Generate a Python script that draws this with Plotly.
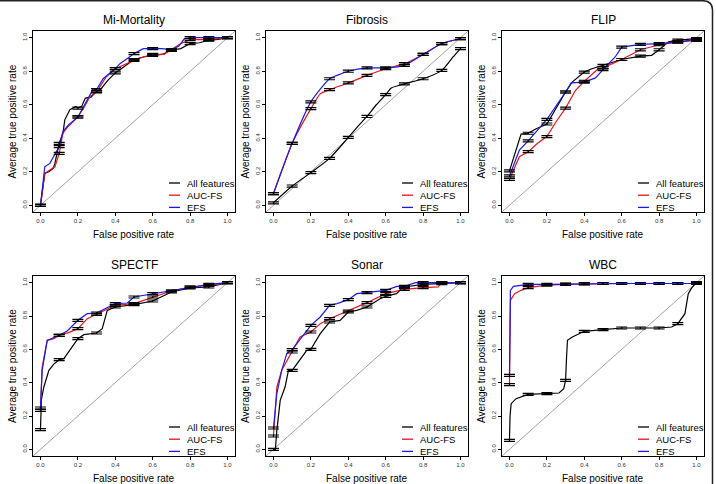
import plotly.graph_objects as go

W, H = 716, 484
FONT = "Liberation Sans, Arial, Helvetica, sans-serif"

PANEL_TITLES = ["Mi-Mortality", "Fibrosis", "FLIP", "SPECTF", "Sonar", "WBC"]
SERIES_NAMES = ["All features", "AUC-FS", "EFS"]
SERIES_COLORS = ["#000000", "#e8141c", "#1a1ae6"]
TICK_VALUES = [0.0, 0.2, 0.4, 0.6, 0.8, 1.0]
TICK_LABELS = ["0.0", "0.2", "0.4", "0.6", "0.8", "1.0"]
X_LABEL = "False positive rate"
Y_LABEL = "Average true positive rate"
STDERR = 0.006

# ---- Mi-Mortality ----
MI_ALL_X = [0, 0.023, 0.045, 0.068, 0.077, 0.095, 0.1, 0.12, 0.13, 0.157, 0.19, 0.2, 0.22, 0.24, 0.27, 0.3, 0.32, 0.36, 0.4, 0.45, 0.5, 0.55, 0.6, 0.65, 0.7, 0.75, 0.8, 0.85, 0.9, 0.95, 1.0]
MI_ALL_Y = [0, 0.19, 0.2, 0.22, 0.25, 0.35, 0.37, 0.43, 0.51, 0.57, 0.59, 0.58, 0.59, 0.64, 0.645, 0.68, 0.69, 0.745, 0.79, 0.83, 0.87, 0.885, 0.895, 0.9, 0.925, 0.935, 0.965, 0.97, 0.985, 0.99, 1.0]
MI_AUC_X = [0, 0.023, 0.05, 0.077, 0.1, 0.12, 0.14, 0.19, 0.2, 0.23, 0.265, 0.3, 0.35, 0.4, 0.44, 0.5, 0.55, 0.6, 0.66, 0.7, 0.75, 0.8, 0.9, 1.0]
MI_AUC_Y = [0, 0.19, 0.21, 0.23, 0.31, 0.43, 0.46, 0.52, 0.527, 0.58, 0.65, 0.676, 0.765, 0.815, 0.835, 0.865, 0.885, 0.9, 0.9, 0.928, 0.965, 0.988, 0.988, 1.0]
MI_EFS_X = [0, 0.023, 0.05, 0.08, 0.1, 0.12, 0.15, 0.2, 0.23, 0.28, 0.3, 0.335, 0.4, 0.425, 0.47, 0.5, 0.55, 0.6, 0.65, 0.7, 0.74, 0.77, 0.8, 0.9, 1.0]
MI_EFS_Y = [0, 0.23, 0.25, 0.31, 0.35, 0.44, 0.48, 0.527, 0.59, 0.69, 0.69, 0.755, 0.815, 0.845, 0.88, 0.905, 0.935, 0.935, 0.935, 0.928, 0.95, 0.995, 1.0, 1.0, 1.0]

# ---- Fibrosis ----
FIB_ALL_X = [0, 0.1, 0.2, 0.3, 0.4, 0.45, 0.5, 0.55, 0.6, 0.63, 0.7, 0.8, 0.9, 0.96, 1.0]
FIB_ALL_Y = [0.015, 0.115, 0.195, 0.28, 0.405, 0.47, 0.53, 0.6, 0.66, 0.7, 0.725, 0.755, 0.805, 0.885, 0.935]
FIB_AUC_X = [0, 0.1, 0.2, 0.25, 0.3, 0.4, 0.5, 0.6, 0.7, 0.8, 0.9, 1.0]
FIB_AUC_Y = [0.07, 0.37, 0.577, 0.665, 0.69, 0.73, 0.775, 0.815, 0.845, 0.9, 0.965, 0.995]
FIB_EFS_X = [0, 0.1, 0.2, 0.3, 0.35, 0.4, 0.5, 0.6, 0.7, 0.8, 0.9, 1.0]
FIB_EFS_Y = [0.07, 0.37, 0.617, 0.755, 0.78, 0.8, 0.82, 0.82, 0.835, 0.9, 0.965, 0.995]

# ---- FLIP ----
FLIP_ALL_X = [0, 0.035, 0.062, 0.1, 0.14, 0.2, 0.25, 0.3, 0.335, 0.4, 0.44, 0.5, 0.6, 0.7, 0.76, 0.8, 0.85, 0.9, 1.0]
FLIP_ALL_Y = [0.205, 0.33, 0.425, 0.43, 0.455, 0.485, 0.585, 0.676, 0.735, 0.795, 0.815, 0.835, 0.87, 0.89, 0.895, 0.928, 0.975, 0.985, 0.995]
FLIP_AUC_X = [0, 0.053, 0.1, 0.15, 0.2, 0.25, 0.3, 0.353, 0.4, 0.47, 0.5, 0.6, 0.7, 0.8, 0.9, 1.0]
FLIP_AUC_Y = [0.155, 0.29, 0.32, 0.37, 0.41, 0.5, 0.58, 0.686, 0.74, 0.81, 0.82, 0.87, 0.928, 0.958, 0.974, 0.984]
FLIP_EFS_X = [0, 0.053, 0.1, 0.2, 0.3, 0.33, 0.4, 0.46, 0.5, 0.565, 0.6, 0.7, 0.8, 0.9, 1.0]
FLIP_EFS_Y = [0.175, 0.33, 0.384, 0.513, 0.676, 0.73, 0.735, 0.76, 0.81, 0.885, 0.944, 0.96, 0.965, 0.975, 0.99]

# ---- SPECTF ----
SPE_ALL_X = [0, 0.005, 0.018, 0.045, 0.07, 0.1, 0.125, 0.16, 0.2, 0.232, 0.3, 0.33, 0.345, 0.357, 0.4, 0.5, 0.6, 0.7, 0.8, 0.9, 1.0]
SPE_ALL_Y = [0.118, 0.3, 0.374, 0.474, 0.51, 0.538, 0.544, 0.6, 0.664, 0.688, 0.698, 0.724, 0.79, 0.834, 0.854, 0.868, 0.89, 0.944, 0.968, 0.974, 1.0]
SPE_AUC_X = [0, 0.009, 0.036, 0.071, 0.1, 0.15, 0.2, 0.25, 0.3, 0.4, 0.5, 0.6, 0.7, 0.8, 0.9, 1.0]
SPE_AUC_Y = [0.234, 0.494, 0.654, 0.664, 0.684, 0.7, 0.724, 0.784, 0.81, 0.864, 0.874, 0.914, 0.95, 0.974, 0.984, 1.0]
SPE_EFS_X = [0, 0.009, 0.036, 0.1, 0.143, 0.2, 0.25, 0.3, 0.4, 0.464, 0.5, 0.6, 0.7, 0.8, 0.9, 1.0]
SPE_EFS_Y = [0.248, 0.474, 0.654, 0.684, 0.71, 0.774, 0.814, 0.818, 0.874, 0.878, 0.914, 0.934, 0.95, 0.974, 0.99, 1.0]

# ---- Sonar ----
SON_ALL_X = [0, 0.01, 0.018, 0.036, 0.062, 0.08, 0.1, 0.133, 0.178, 0.2, 0.25, 0.3, 0.356, 0.4, 0.445, 0.5, 0.57, 0.6, 0.658, 0.694, 0.7, 0.8, 0.9, 1.0]
SON_ALL_Y = [0, 0.0, 0.114, 0.294, 0.374, 0.474, 0.474, 0.524, 0.594, 0.6, 0.694, 0.764, 0.774, 0.824, 0.834, 0.854, 0.904, 0.918, 0.934, 0.974, 0.974, 0.99, 0.994, 1.0]
SON_AUC_X = [0, 0.018, 0.044, 0.1, 0.142, 0.2, 0.25, 0.3, 0.4, 0.5, 0.6, 0.7, 0.8, 0.88, 0.9, 1.0]
SON_AUC_Y = [0.08, 0.374, 0.474, 0.584, 0.674, 0.704, 0.754, 0.784, 0.83, 0.88, 0.934, 0.96, 0.97, 0.975, 1.0, 1.0]
SON_EFS_X = [0, 0.018, 0.044, 0.071, 0.1, 0.2, 0.25, 0.3, 0.34, 0.4, 0.445, 0.5, 0.6, 0.66, 0.7, 0.76, 0.8, 0.9, 1.0]
SON_EFS_Y = [0.128, 0.334, 0.474, 0.574, 0.598, 0.744, 0.794, 0.864, 0.874, 0.898, 0.934, 0.94, 0.954, 0.978, 0.978, 1.0, 1.0, 1.0, 1.0]

# ---- WBC ----
WBC_ALL_X = [0, 0.003, 0.009, 0.035, 0.1, 0.2, 0.265, 0.29, 0.3, 0.305, 0.31, 0.336, 0.4, 0.5, 0.6, 0.7, 0.8, 0.867, 0.9, 0.938, 0.956, 0.975, 1.0]
WBC_ALL_Y = [0.054, 0.2, 0.274, 0.304, 0.33, 0.334, 0.338, 0.364, 0.414, 0.55, 0.654, 0.674, 0.708, 0.718, 0.728, 0.728, 0.728, 0.734, 0.754, 0.814, 0.934, 0.97, 1.0]
WBC_AUC_X = [0, 0.003, 0.005, 0.027, 0.062, 0.1, 0.2, 0.3, 0.4, 0.5, 0.6, 0.7, 0.8, 0.9, 1.0]
WBC_AUC_Y = [0.388, 0.7, 0.894, 0.934, 0.954, 0.97, 0.985, 0.99, 0.993, 0.995, 0.995, 0.995, 0.995, 0.995, 0.995]
WBC_EFS_X = [0, 0.003, 0.005, 0.021, 0.1, 0.2, 0.3, 0.4, 0.5, 0.6, 0.7, 0.8, 0.9, 1.0]
WBC_EFS_Y = [0.444, 0.8, 0.954, 0.978, 0.99, 0.99, 0.992, 0.994, 0.995, 0.995, 0.995, 0.995, 0.995, 0.995]

PANEL_DATA = [
    [(MI_ALL_X, MI_ALL_Y), (MI_AUC_X, MI_AUC_Y), (MI_EFS_X, MI_EFS_Y)],
    [(FIB_ALL_X, FIB_ALL_Y), (FIB_AUC_X, FIB_AUC_Y), (FIB_EFS_X, FIB_EFS_Y)],
    [(FLIP_ALL_X, FLIP_ALL_Y), (FLIP_AUC_X, FLIP_AUC_Y), (FLIP_EFS_X, FLIP_EFS_Y)],
    [(SPE_ALL_X, SPE_ALL_Y), (SPE_AUC_X, SPE_AUC_Y), (SPE_EFS_X, SPE_EFS_Y)],
    [(SON_ALL_X, SON_ALL_Y), (SON_AUC_X, SON_AUC_Y), (SON_EFS_X, SON_EFS_Y)],
    [(WBC_ALL_X, WBC_ALL_Y), (WBC_AUC_X, WBC_AUC_Y), (WBC_EFS_X, WBC_EFS_Y)],
]
SMOOTH_PANELS = {"Fibrosis"}

# ---- layout geometry (pixels) ----
COL_PX = [(33, 235), (266, 468), (502, 704)]
ROW_PX = [(31, 212), (276, 456)]
AX_RANGE = [-0.04, 1.04]


def px_x(p):
    return p / W


def px_y(p):
    return 1 - p / H


fig = go.Figure()
layout = dict(
    width=W, height=H, margin=dict(l=0, r=0, t=0, b=0),
    paper_bgcolor="white", plot_bgcolor="white", showlegend=False,
    font=dict(family=FONT, color="#000"),
)
annotations = []
shapes = []

for i, title in enumerate(PANEL_TITLES):
    r, c = divmod(i, 3)
    xl, xr = COL_PX[c]
    yt, yb = ROW_PX[r]
    sfx = "" if i == 0 else str(i + 1)
    xa, ya = "x" + sfx, "y" + sfx
    common = dict(
        range=AX_RANGE, tickvals=TICK_VALUES, ticktext=TICK_LABELS,
        showline=True, mirror=True, linecolor="#000", linewidth=1.2,
        ticks="outside", ticklen=3, tickwidth=0.8, tickcolor="#000",
        tickfont=dict(size=6, color="#333", family=FONT),
        showgrid=False, zeroline=False, fixedrange=True,
    )
    layout["xaxis" + sfx] = dict(common, domain=[px_x(xl), px_x(xr)], anchor=ya)
    layout["yaxis" + sfx] = dict(common, domain=[px_y(yb), px_y(yt)], anchor=xa, tickangle=-90)

    # diagonal reference line (abline y = x)
    fig.add_trace(go.Scatter(x=AX_RANGE, y=AX_RANGE, mode="lines",
                             line=dict(color="#8a8a8a", width=0.8),
                             xaxis=xa, yaxis=ya, hoverinfo="skip"))
    series = PANEL_DATA[i]
    for s in (0, 1, 2):
        xs, ys = series[s]
        col = SERIES_COLORS[s]
        shape = "spline" if title in SMOOTH_PANELS else "linear"
        fig.add_trace(go.Scatter(x=xs, y=ys, mode="lines", name=SERIES_NAMES[s],
                                 line=dict(color=col, width=1.2, shape=shape, smoothing=0.6),
                                 xaxis=xa, yaxis=ya))
    for s in (0, 1, 2):
        xs, ys = series[s]
        bx = [x for x in xs if abs(x * 10 - round(x * 10)) < 1e-9]
        by = [y for x, y in zip(xs, ys) if abs(x * 10 - round(x * 10)) < 1e-9]
        fig.add_trace(go.Scatter(x=bx, y=by, mode="markers",
                                 marker=dict(size=1, color="#000"),
                                 error_y=dict(type="constant", value=STDERR, color="#000",
                                              thickness=1.2, width=5.5),
                                 xaxis=xa, yaxis=ya, hoverinfo="skip"))

    cx = (xl + xr) / 2
    cy = (yt + yb) / 2
    annotations.append(dict(text=title, x=px_x(cx), y=px_y(yt - 11), xref="paper", yref="paper",
                            showarrow=False, xanchor="center", yanchor="middle",
                            font=dict(size=12, family=FONT, color="#000")))
    annotations.append(dict(text=X_LABEL, x=px_x(cx), y=px_y(yb + 22), xref="paper", yref="paper",
                            showarrow=False, xanchor="center", yanchor="middle",
                            font=dict(size=10, family=FONT, color="#000")))
    annotations.append(dict(text=Y_LABEL, x=px_x(xl - 21), y=px_y(cy), xref="paper", yref="paper",
                            showarrow=False, xanchor="center", yanchor="middle", textangle=-90,
                            font=dict(size=10, family=FONT, color="#000")))
    # legend (bottom-right, no box)
    for s in (0, 1, 2):
        ly = yb - 29 + s * 12.2
        shapes.append(dict(type="line", xref="paper", yref="paper",
                           x0=px_x(xr - 66), x1=px_x(xr - 55), y0=px_y(ly), y1=px_y(ly),
                           line=dict(color=SERIES_COLORS[s], width=1.3)))
        annotations.append(dict(text=SERIES_NAMES[s], x=px_x(xr - 50), y=px_y(ly),
                                xref="paper", yref="paper", showarrow=False,
                                xanchor="left", yanchor="middle",
                                font=dict(size=9.5, family=FONT, color="#000")))

# outer frame (top edge + rounded top-right corner + right edge)
fx0, fr, rad = 0, 712.5, 10
path = (f"M {px_x(fx0)},{px_y(0.7)} L {px_x(fr - rad)},{px_y(0.7)} "
        f"Q {px_x(fr)},{px_y(0.7)} {px_x(fr)},{px_y(rad)} L {px_x(fr)},{px_y(H)}")
shapes.append(dict(type="path", xref="paper", yref="paper", path=path,
                   line=dict(color="#222", width=1.5)))

layout["annotations"] = annotations
layout["shapes"] = shapes
fig.update_layout(**layout)
fig.write_html("out.html")
